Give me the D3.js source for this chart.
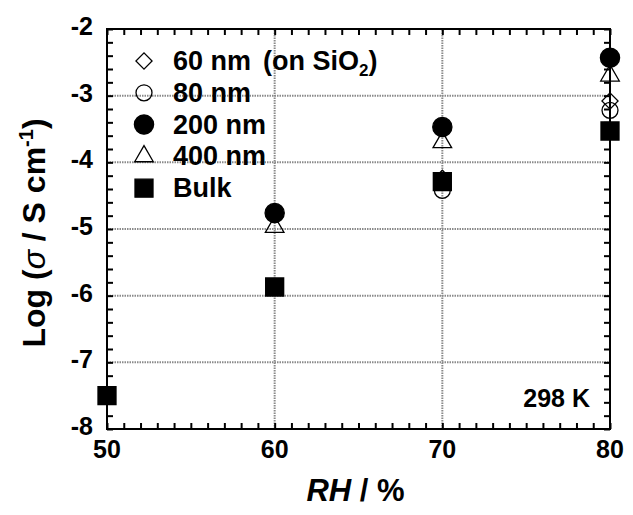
<!DOCTYPE html>
<html>
<head>
<meta charset="utf-8">
<script src="https://cdn.jsdelivr.net/npm/d3@7"></script>
<style>
  body { margin: 0; background: #fff; }
  text { font-family: "Liberation Sans", Arial, sans-serif; font-weight: bold; }
</style>
</head>
<body>
<svg id="chart"></svg>
<script>
// data
const rh = [50, 60, 70, 80];
const nm60 = [null, null, -4.24, -3.08];
const nm80 = [null, null, -4.42, -3.22];
const nm200 = [null, -4.76, -3.47, -2.43];
const nm400 = [null, -4.97, -3.70, -2.70];
const bulk = [-7.5, -5.87, -4.29, -3.53];

const xTicks = [50, 60, 70, 80];
const yTicks = [-8, -7, -6, -5, -4, -3, -2];

const width = 633, height = 515;
const margin = {top: 29, right: 23, bottom: 86, left: 107};

const svg = d3.select("#chart")
  .attr("width", width)
  .attr("height", height);

const x = d3.scaleLinear([50, 80], [margin.left, width - margin.right]);
const y = d3.scaleLinear([-8, -2], [height - margin.bottom, margin.top]);

// grid lines at major values
const grid = svg.append("g")
  .attr("stroke", "#8a8a8a")
  .attr("stroke-width", 2)
  .attr("stroke-dasharray", "1.5,1");
grid.selectAll(".gx")
  .data(xTicks.slice(1, -1))
  .join("line")
  .attr("x1", d => x(d)).attr("x2", d => x(d))
  .attr("y1", y(-8)).attr("y2", y(-2));
grid.selectAll(".gy")
  .data(yTicks.slice(1, -1))
  .join("line")
  .attr("x1", x(50)).attr("x2", x(80))
  .attr("y1", d => y(d)).attr("y2", d => y(d));

// axes, ticks inward on all four sides
const tk = 6;
svg.append("g")
  .attr("transform", `translate(0,${y(-8)})`)
  .call(d3.axisBottom(x).tickValues(d3.range(50, 81, 1)).tickSize(-tk).tickFormat(""));
svg.append("g")
  .attr("transform", `translate(0,${y(-2)})`)
  .call(d3.axisTop(x).tickValues(d3.range(50, 81, 1)).tickSize(-tk).tickFormat(""));
svg.append("g")
  .attr("transform", `translate(${x(50)},0)`)
  .call(d3.axisLeft(y).tickValues(d3.range(-8, -1.99, 0.2)).tickSize(-tk).tickFormat(""));
svg.append("g")
  .attr("transform", `translate(${x(80)},0)`)
  .call(d3.axisRight(y).tickValues(d3.range(-8, -1.99, 0.2)).tickSize(-tk).tickFormat(""));
svg.selectAll(".domain").remove();
svg.selectAll(".tick line").attr("stroke", "#000").attr("stroke-width", 2);

svg.append("rect")
  .attr("x", x(50)).attr("y", y(-2))
  .attr("width", x(80) - x(50)).attr("height", y(-8) - y(-2))
  .attr("fill", "none").attr("stroke", "#000").attr("stroke-width", 2);

// tick labels
svg.append("g")
  .selectAll("text")
  .data(xTicks)
  .join("text")
  .attr("x", d => x(d))
  .attr("y", y(-8) + 29)
  .attr("text-anchor", "middle")
  .attr("font-size", 25)
  .text(d => d);
svg.append("g")
  .selectAll("text")
  .data(yTicks)
  .join("text")
  .attr("x", x(50) - 14)
  .attr("y", d => y(d) + 6)
  .attr("text-anchor", "end")
  .attr("font-size", 25)
  .text(d => d);

// axis titles
const xt = svg.append("text")
  .attr("x", (x(50) + x(80)) / 2 - 3)
  .attr("y", 501)
  .attr("text-anchor", "middle")
  .attr("font-size", 31);
xt.append("tspan").attr("font-style", "italic").text("RH");
xt.append("tspan").text(" / %");

const yt = svg.append("text")
  .attr("transform", `translate(45,${(y(-2) + y(-8)) / 2 + 4}) rotate(-90)`)
  .attr("text-anchor", "middle")
  .attr("font-size", 32);
yt.append("tspan").text("Log (");
yt.append("tspan").attr("font-style", "italic").attr("font-weight", "normal").text("σ");
yt.append("tspan").text(" / S cm");
yt.append("tspan").attr("font-size", 20).attr("dy", -12).text("-1");
yt.append("tspan").attr("dy", 12).text(")");

// series
const series = [
  {name: "60 nm", values: nm60, type: d3.symbolSquare, size: 130, rot: 45, fill: "none"},
  {name: "80 nm", values: nm80, type: d3.symbolCircle, size: 200, rot: 0, fill: "none"},
  {name: "200 nm", values: nm200, type: d3.symbolCircle, size: 290, rot: 0, fill: "#000"},
  {name: "400 nm", values: nm400, type: d3.symbolTriangle, size: 150, rot: 0, fill: "none"},
  {name: "Bulk", values: bulk, type: d3.symbolSquare, size: 324, rot: 0, fill: "#000"}
];

series.forEach(s => {
  const pts = rh.map((r, i) => ({x: r, y: s.values[i]})).filter(d => d.y !== null);
  svg.append("g")
    .selectAll("path")
    .data(pts)
    .join("path")
    .attr("transform", d => `translate(${x(d.x)},${y(d.y)}) rotate(${s.rot})`)
    .attr("d", d3.symbol(s.type, s.size))
    .attr("fill", s.fill)
    .attr("stroke", "#000")
    .attr("stroke-width", 1.3);
});

// legend
const legend = svg.append("g")
  .selectAll("g")
  .data(series)
  .join("g")
  .attr("transform", (d, i) => `translate(0,${70 + i * 31.8})`);
legend.append("path")
  .attr("transform", d => `translate(144,-9) rotate(${d.rot})`)
  .attr("d", d => d3.symbol(d.type, d.size)())
  .attr("fill", d => d.fill)
  .attr("stroke", "#000")
  .attr("stroke-width", 1.3);
const lt = legend.append("text")
  .attr("x", 173)
  .attr("font-size", 27);
lt.each(function (d, i) {
  const t = d3.select(this);
  t.append("tspan").text(d.name);
  if (i === 0) {
    t.append("tspan").attr("dx", 12).text("(on SiO");
    t.append("tspan").attr("font-size", 17).attr("dy", 6).text("2");
    t.append("tspan").attr("dy", -6).text(")");
  }
});

svg.append("text")
  .attr("x", 590)
  .attr("y", 407)
  .attr("text-anchor", "end")
  .attr("font-size", 25)
  .text("298 K");
</script>
</body>
</html>
